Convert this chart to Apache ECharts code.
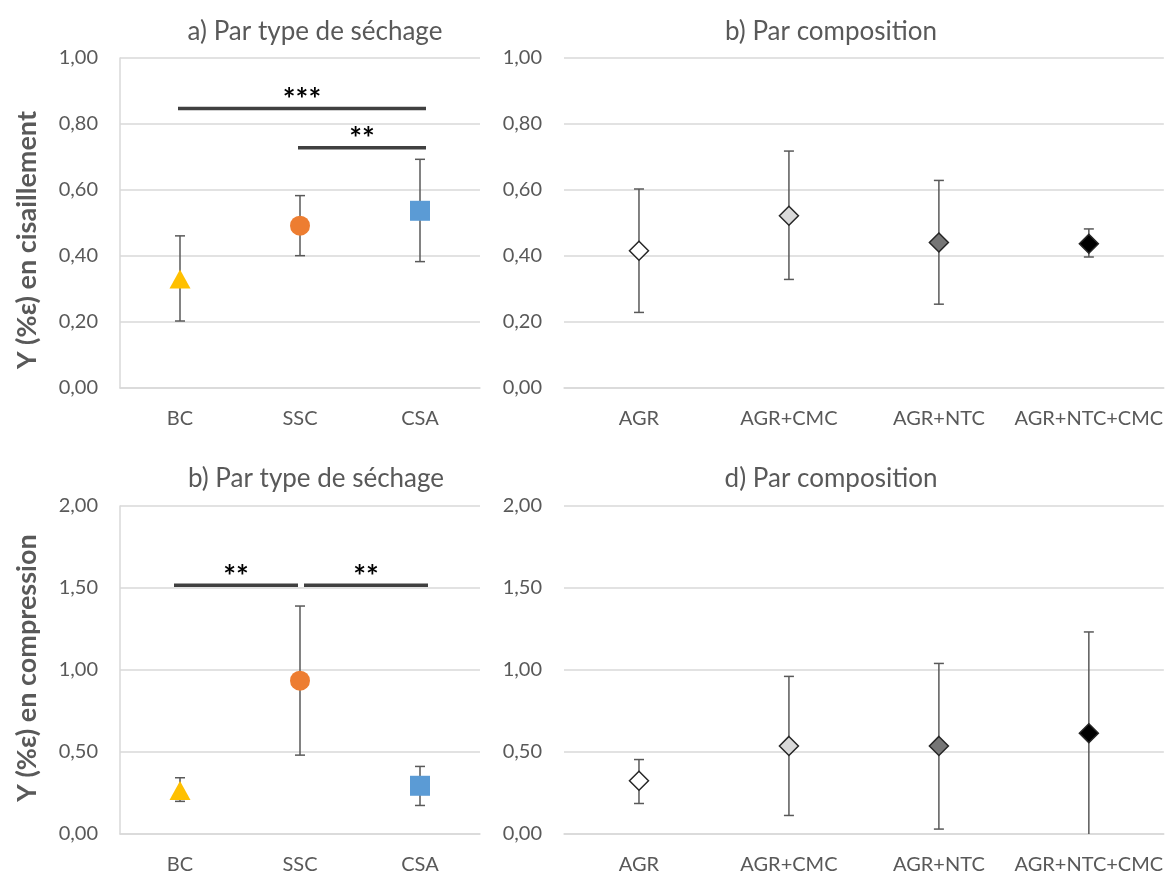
<!DOCTYPE html>
<html><head><meta charset="utf-8">
<script src="https://cdn.jsdelivr.net/npm/echarts@6/dist/echarts.min.js"></script>
<style>html,body{margin:0;padding:0;background:#fff}#c{width:1166px;height:877px}</style>
</head><body><div id="c"></div>
<script>
const catsDrying = ['BC', 'SSC', 'CSA'];
const catsComp = ['AGR', 'AGR+CMC', 'AGR+NTC', 'AGR+NTC+CMC'];

// Shear (cisaillement)
const shearDryMean = [0.330, 0.492, 0.537];
const shearDryLow  = [0.203, 0.401, 0.383];
const shearDryHigh = [0.461, 0.583, 0.693];
const shearCompMean = [0.416, 0.522, 0.441, 0.437];
const shearCompLow  = [0.229, 0.329, 0.254, 0.397];
const shearCompHigh = [0.603, 0.718, 0.629, 0.482];

// Compression
const compDryMean = [0.266, 0.935, 0.294];
const compDryLow  = [0.199, 0.481, 0.174];
const compDryHigh = [0.343, 1.390, 0.412];
const compCompMean = [0.325, 0.537, 0.537, 0.614];
const compCompLow  = [0.186, 0.113, 0.030, 0.000];
const compCompHigh = [0.454, 0.961, 1.040, 1.232];

// significance bars: [fromIndex, toIndex, y, label]
const sigShear = [[0, 2, 0.847, '***'], [1, 2, 0.728, '**']];
const sigComp  = [[0, 1, 1.517, '**'], [1, 2, 1.517, '**']];

const titles = ['a) Par type de séchage', 'b) Par composition', 'b) Par type de séchage', 'd) Par composition'];
const yTitles = ['Y (%ε) en cisaillement', 'Y (%ε) en compression'];

const dryColors = ['#FFC000', '#ED7D31', '#5B9BD5'];
const drySymbols = ['triangle', 'circle', 'rect'];
const compFills = ['#FFFFFF', '#D9D9D9', '#767676', '#000000'];

const FONT = 'Lato, "Open Sans", sans-serif';
const TXT = '#595959';
const GRIDC = '#D9D9D9';

const grids = [
  {left: 120, top: 58, width: 360, height: 330},
  {left: 564, top: 58, width: 601, height: 330},
  {left: 120, top: 506, width: 360, height: 328},
  {left: 564, top: 506, width: 601, height: 328}
];

const fmt = v => v.toFixed(2).replace('.', ',');

function xAxis(i, cats) {
  return {
    type: 'category', gridIndex: i, data: cats,
    axisLine: {show: true, lineStyle: {color: GRIDC, width: 1.5}},
    axisTick: {show: false},
    axisLabel: {color: TXT, fontFamily: FONT, fontSize: 20, margin: 21, interval: 0, hideOverlap: false}
  };
}
function yAxis(i, max, interval, showLine) {
  return {
    type: 'value', gridIndex: i, min: 0, max: max, interval: interval,
    axisLine: {show: showLine, lineStyle: {color: GRIDC, width: 1.5}},
    axisTick: {show: false},
    splitLine: {lineStyle: {color: GRIDC, width: 1.5}},
    axisLabel: {color: TXT, fontFamily: FONT, fontSize: 20, margin: 22, formatter: fmt}
  };
}

function errSeries(i, low, high) {
  return {
    type: 'custom', xAxisIndex: i, yAxisIndex: i, z: 2,
    data: low.map((l, k) => [k, l, high[k]]),
    renderItem: function (params, api) {
      const x = api.value(0);
      const lo = api.coord([x, api.value(1)]);
      const hi = api.coord([x, api.value(2)]);
      const st = {stroke: '#595959', lineWidth: 1.5};
      const ch = [
        {type: 'line', shape: {x1: lo[0], y1: lo[1], x2: hi[0], y2: hi[1]}, style: st},
        {type: 'line', shape: {x1: hi[0] - 5, y1: hi[1], x2: hi[0] + 5, y2: hi[1]}, style: st}
      ];
      if (api.value(1) > 0) ch.push({type: 'line', shape: {x1: lo[0] - 5, y1: lo[1], x2: lo[0] + 5, y2: lo[1]}, style: st});
      return {type: 'group', children: ch};
    }
  };
}

function sigSeries(i, sig, gapped) {
  return {
    type: 'custom', xAxisIndex: i, yAxisIndex: i, z: 3,
    data: sig.map(s => [s[0], s[1], s[2], s[3]]),
    renderItem: function (params, api) {
      const a = api.coord([api.value(0), api.value(2)]);
      const b = api.coord([api.value(1), api.value(2)]);
      let x1 = a[0] - 2, x2 = b[0] + 6;
      if (gapped) { x1 = a[0] - 6; x2 = b[0] + 8; if (api.value(0) === 0) x2 = b[0] - 2; else x1 = a[0] + 4; }
      return {type: 'group', children: [
        {type: 'line', shape: {x1: x1, y1: a[1], x2: x2, y2: a[1]}, style: {stroke: '#404040', lineWidth: 3.5}},
        {type: 'text', x: (x1 + x2) / 2, y: a[1] - 8,
         style: {text: sig[params.dataIndex][3], fill: '#000', font: 'bold 30px ' + FONT, textAlign: 'center', textVerticalAlign: 'middle'}}
      ]};
    }
  };
}

function dryScatter(i, mean) {
  return {
    type: 'scatter', xAxisIndex: i, yAxisIndex: i, z: 5,
    data: mean.map((v, k) => ({
      value: [k, v], symbol: drySymbols[k],
      symbolSize: k === 0 ? [21, 19] : 20,
      itemStyle: {color: dryColors[k], opacity: 1}
    }))
  };
}
function compScatter(i, mean) {
  return {
    type: 'scatter', xAxisIndex: i, yAxisIndex: i, z: 5,
    data: mean.map((v, k) => ({
      value: [k, v], symbol: 'diamond', symbolSize: 19,
      itemStyle: {color: compFills[k], borderColor: '#262626', borderWidth: 1.5, opacity: 1}
    }))
  };
}

const titleCenters = [[310, 14], [826, 14], [311, 461], [826, 461]];

const option = {
  animation: false,
  backgroundColor: '#fff',
  title: titles.map((t, i) => ({
    text: t, left: titleCenters[i][0], top: titleCenters[i][1], textAlign: 'center',
    textStyle: {color: TXT, fontFamily: FONT, fontSize: 26, fontWeight: 'normal'}
  })),
  grid: grids,
  xAxis: [xAxis(0, catsDrying), xAxis(1, catsComp), xAxis(2, catsDrying), xAxis(3, catsComp)],
  yAxis: [yAxis(0, 1, 0.2, true), yAxis(1, 1, 0.2, false), yAxis(2, 2, 0.5, true), yAxis(3, 2, 0.5, false)],
  graphic: [
    {type: 'text', x: 27, y: 240, rotation: Math.PI / 2,
     style: {text: yTitles[0], fill: TXT, font: 'bold 27px ' + FONT, textAlign: 'center', textVerticalAlign: 'middle'}},
    {type: 'text', x: 27, y: 668, rotation: Math.PI / 2,
     style: {text: yTitles[1], fill: TXT, font: 'bold 27px ' + FONT, textAlign: 'center', textVerticalAlign: 'middle'}}
  ],
  series: [
    errSeries(0, shearDryLow, shearDryHigh), dryScatter(0, shearDryMean), sigSeries(0, sigShear, false),
    errSeries(1, shearCompLow, shearCompHigh), compScatter(1, shearCompMean),
    errSeries(2, compDryLow, compDryHigh), dryScatter(2, compDryMean), sigSeries(2, sigComp, true),
    errSeries(3, compCompLow, compCompHigh), compScatter(3, compCompMean)
  ]
};
const chart = echarts.init(document.getElementById('c'), null, {renderer: 'canvas'});
chart.setOption(option);
</script></body></html>
